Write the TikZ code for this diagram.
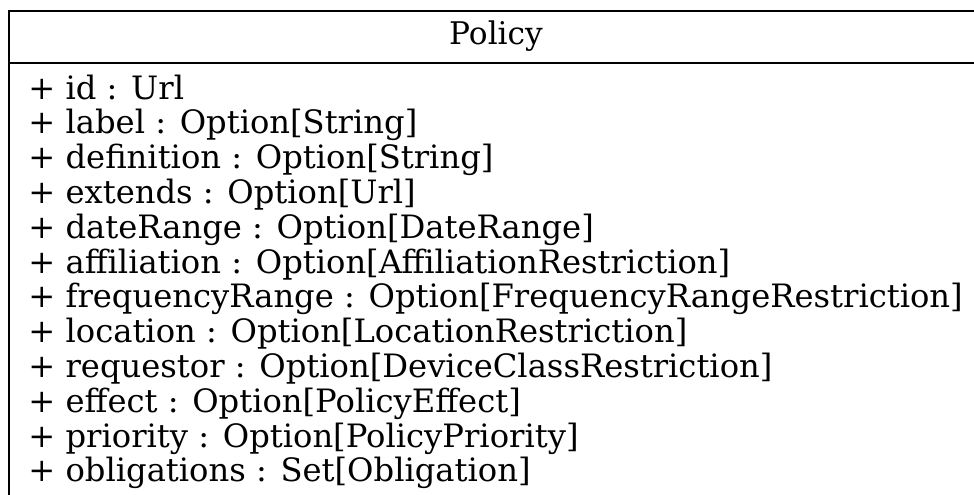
\documentclass[tikz,border=0pt]{standalone}
\usepackage{fontspec}
\setmainfont{DejaVu Serif}
\usetikzlibrary{positioning}

\begin{document}
\begin{tikzpicture}[
        x=0.5pt, y=-0.5pt,
        classbox/.style = {draw, line width=1pt},
        title/.style = {inner sep=0pt, anchor=base, font=\fontsize{15.6}{18}\selectfont},
        attr/.style = {inner sep=0pt, anchor=base west, font=\fontsize{16.1}{18}\selectfont}
    ]
    \useasboundingbox (0,0) rectangle (974,494);
    \clip (0,0) rectangle (974,494);

    % class box
    \draw [classbox] (9,11) rectangle (983,530);
    \draw [classbox] (9,63) -- (983,63);

    \node [title] (policy) at (496,44) {Policy};

    % attributes
    \foreach \txt [count=\i] in {
        {+ id : Url},
        {+ label : Option[String]},
        {+ definition : Option[String]},
        {+ extends : Option[Url]},
        {+ dateRange : Option[DateRange]},
        {+ affiliation : Option[AffiliationRestriction]},
        {+ frequencyRange : Option[FrequencyRangeRestriction]},
        {+ location : Option[LocationRestriction]},
        {+ requestor : Option[DeviceClassRestriction]},
        {+ effect : Option[PolicyEffect]},
        {+ priority : Option[PolicyPriority]},
        {+ obligations : Set[Obligation]}}
        \node [attr] (attr\i) at (28,{99+34.8*(\i-1)}) {\txt};

\end{tikzpicture}
\end{document}
